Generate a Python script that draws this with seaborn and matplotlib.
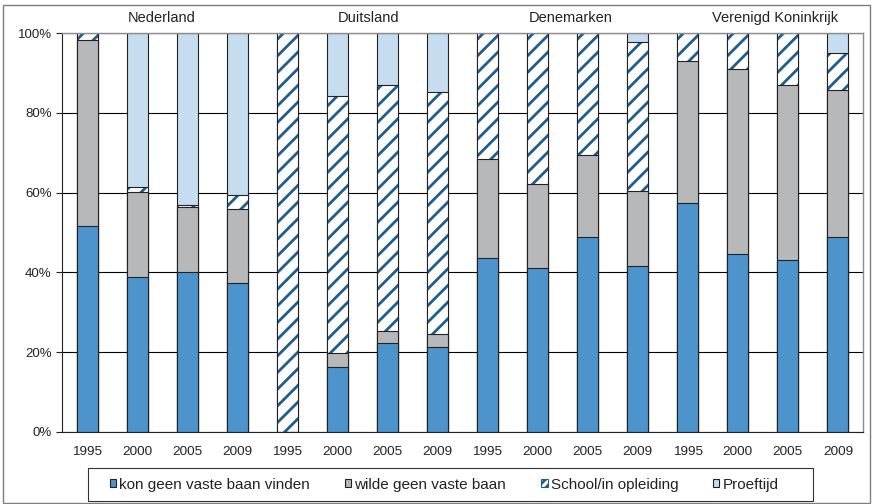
import numpy as np
import pandas as pd
import seaborn as sns
import matplotlib.pyplot as plt
from matplotlib.patches import Patch, Rectangle

# categories
countries = ["Nederland", "Duitsland", "Denemarken", "Verenigd Koninkrijk"]
years = ["1995", "2000", "2005", "2009"]

# shares (%) per bar, order: country x year
kon_geen = [51.6, 38.8, 40.0, 37.3, 0.0, 16.2, 22.4, 21.4,
            43.5, 41.1, 48.8, 41.7, 57.5, 44.6, 43.2, 48.8]
wilde_geen = [46.6, 21.3, 16.4, 18.7, 0.0, 3.6, 3.0, 3.1,
              25.0, 21.1, 20.5, 18.7, 35.5, 46.5, 43.7, 36.8]
school = [1.8, 1.3, 0.6, 3.5, 100.0, 64.5, 61.5, 60.6,
          31.5, 37.8, 30.7, 37.3, 7.0, 8.9, 13.1, 9.3]
proeftijd = [0.0, 38.6, 43.0, 40.5, 0.0, 15.7, 13.1, 14.9,
             0.0, 0.0, 0.0, 2.3, 0.0, 0.0, 0.0, 5.1]

legend_labels = ["kon geen vaste baan vinden", "wilde geen vaste baan",
                 "School/in opleiding", "Proeftijd"]

BLUE = "#4d94cc"
GRAY = "#b7b8ba"
LIGHT = "#c6ddef"
HATCH = "#1f5d8c"
EDGE = "#222222"

keys = [f"{c}|{y}" for c in countries for y in years]
df = pd.DataFrame({
    "key": keys,
    "kon": kon_geen,
    "wilde": wilde_geen,
    "school": school,
    "proef": proeftijd,
})
df["c1"] = df["kon"]
df["c2"] = df["c1"] + df["wilde"]
df["c3"] = df["c2"] + df["school"]
df["c4"] = df["c3"] + df["proef"]

sns.set_style("white")
plt.rcParams["font.family"] = ["Liberation Sans", "DejaVu Sans"]
plt.rcParams["hatch.linewidth"] = 2.0

fig = plt.figure(figsize=(8.72, 5.04), dpi=100)
ax = fig.add_axes([62 / 872, 1 - 432 / 504, 801 / 872, 399 / 504])

common = dict(data=df, x="key", order=keys, errorbar=None, width=0.42,
              saturation=1, ax=ax)

# stacked bars drawn as overlapping cumulative totals
sns.barplot(y="c4", color=LIGHT, edgecolor=EDGE, linewidth=0.8, **common)
sns.barplot(y="c3", color="white", edgecolor=HATCH, linewidth=0, hatch="//", **common)
sns.barplot(y="c3", color=EDGE, fill=False, linewidth=0.8, **common)
sns.barplot(y="c2", color=GRAY, edgecolor=EDGE, linewidth=0.8, **common)
sns.barplot(y="c1", color=BLUE, edgecolor=EDGE, linewidth=0.8, **common)

ax.set_xlim(-0.5, len(keys) - 0.5)
ax.set_ylim(0, 100)
ax.set_xlabel("")
ax.set_ylabel("")

ax.set_yticks([0, 20, 40, 60, 80, 100])
ax.set_yticklabels([f"{v}%" for v in [0, 20, 40, 60, 80, 100]])
ax.yaxis.grid(True, color="black", linewidth=0.8)
ax.set_axisbelow(True)

ax.set_xticks(np.arange(len(keys)))
ax.set_xticklabels(years * len(countries))
ax.set_xticks(np.arange(len(keys) + 1) - 0.5, minor=True)
ax.tick_params(axis="x", which="major", length=0, pad=10, labelsize=9.7, colors="#222222")
ax.tick_params(axis="x", which="minor", length=5, width=0.8, color="#222222")
ax.tick_params(axis="y", length=4, width=0.8, pad=3.5, labelsize=9.5,
               color="#222222", labelcolor="#222222", left=True)

for side in ["left", "bottom"]:
    ax.spines[side].set_color("#222222")
    ax.spines[side].set_linewidth(0.8)
for side in ["top", "right"]:
    ax.spines[side].set_color("#8c8c8c")
    ax.spines[side].set_linewidth(1.0)

# country labels above the plot
for name, px in zip(countries, [162, 369, 571, 775]):
    fig.text(px / 872, 1 - 18 / 504, name, ha="center", va="center",
             fontsize=10.5, color="#222222")

# outer frame
fig.add_artist(Rectangle((3 / 872, 1 - 503 / 504), 867 / 872, 498 / 504,
                         transform=fig.transFigure, fill=False,
                         edgecolor="#7f7f7f", linewidth=1.0))

# legend box
fig.add_artist(Rectangle((88 / 872, 1 - 501 / 504), 725 / 872, 33 / 504,
                         transform=fig.transFigure, fill=False,
                         edgecolor="#333333", linewidth=0.8))

handles = [
    Patch(facecolor=BLUE, edgecolor=EDGE, linewidth=0.8),
    Patch(facecolor=GRAY, edgecolor=EDGE, linewidth=0.8),
    Patch(facecolor="white", edgecolor=HATCH, hatch="////", linewidth=0.8),
    Patch(facecolor=LIGHT, edgecolor=EDGE, linewidth=0.8),
]
leg = fig.legend(handles, legend_labels, ncol=4, loc="center",
                 bbox_to_anchor=(444 / 872, 1 - 484.5 / 504),
                 fontsize=11, frameon=False,
                 handlelength=0.45, handleheight=0.45, handletextpad=0.2,
                 borderpad=0, columnspacing=2.25, borderaxespad=0)
for t in leg.get_texts():
    t.set_color("#222222")

fig.savefig("out.png", dpi=100)
